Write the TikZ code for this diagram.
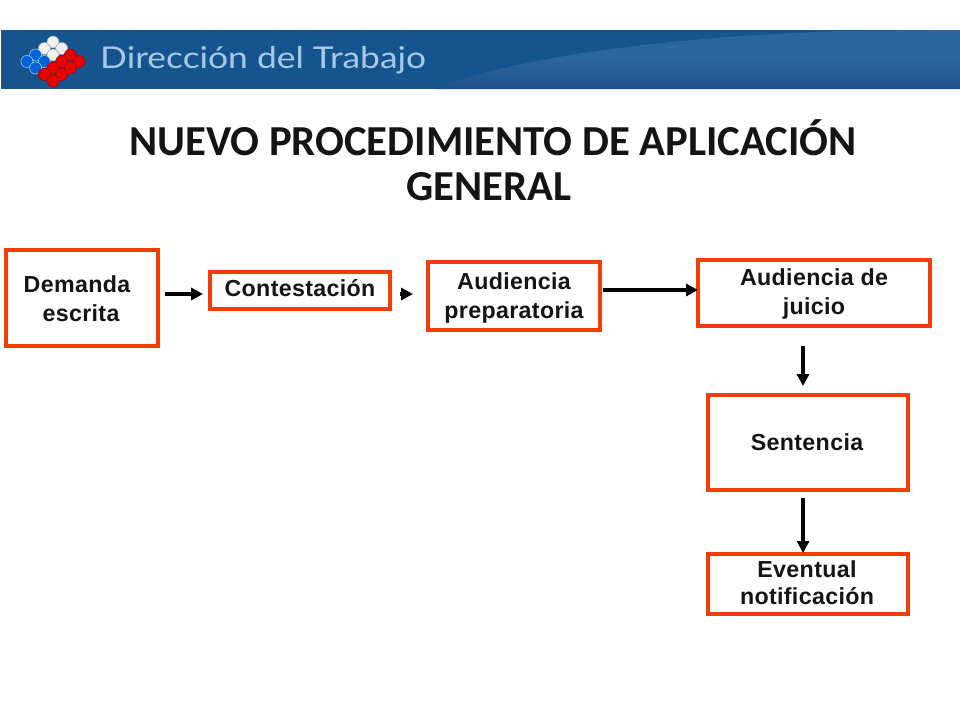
\documentclass[tikz,border=0pt]{standalone}
\usepackage{fontspec}
\setmainfont{Liberation Sans}
\newfontfamily\titlefont{Carlito}
\newfontfamily\logofont[FakeStretch=1.18]{Lato}
\newfontfamily\boxfont[LetterSpace=1.5]{Liberation Sans Bold}
\usetikzlibrary{arrows.meta}
\definecolor{boxred}{HTML}{F53D08}
\definecolor{bandtop}{HTML}{15548F}
\definecolor{bandlight}{HTML}{2C669E}
\definecolor{bandlow}{HTML}{1E5088}
\definecolor{brandblue}{HTML}{A6CBE6}
\tikzset{
  x=1pt,y=-1pt,
  flowbox/.style={draw=boxred,line width=4pt,fill=white,inner sep=0pt},
  flowtext/.style={font=\boxfont\fontsize{23.2}{29}\selectfont,align=center,inner sep=0pt,text=black!92},
  conn/.style={draw=black,line width=3.6pt,-{Triangle[length=12pt,width=12pt]}},
  headline/.style={font=\titlefont\bfseries\fontsize{42.7}{46}\selectfont,inner sep=0pt,text=black!92},
}
\newcommand{\flowrect}[5]{\node[flowbox,minimum width=#4 pt,minimum height=#5 pt] (#1) at (#2,#3) {};}
\begin{document}
\begin{tikzpicture}
\useasboundingbox (0,0) rectangle (960,720);
\fill[white] (0,0) rectangle (960,720);
% band
\fill[bandtop] (2,30) rectangle (960,89);
\shade[top color=bandlight,bottom color=bandlow,middle color=bandlight] (435,89) .. controls (500,62) and (640,38) .. (840,31) -- (960,30) -- (960,89) -- cycle;
\fill[black!70] (1,30) rectangle (2,89);
% logo: a 4 by 4 diamond of dots
\foreach \i in {0,1,2,3}{\foreach \j in {0,1,2,3}{
  \pgfmathsetmacro{\px}{53+8.7*(\i-\j)}
  \pgfmathsetmacro{\py}{35.5+6.5*(\i+\j+1)}
  \ifnum\i<2 \ifnum\j<2 \def\dotc{white!88!gray}\def\dotl{gray!70}\else \def\dotc{blue!55!cyan!85!black}\def\dotl{cyan!40!white}\fi
  \else \def\dotc{red!92!black}\def\dotl{red!65!black}\fi
  \fill[\dotc,draw=\dotl,line width=.5pt] (\px,\py) circle (6pt);
}}
\node[anchor=west,inner sep=0pt,text=brandblue] (brand) at (100,60) {\logofont\fontsize{30}{32}\selectfont Dirección del Trabajo};
% title
\node[headline] (title1) at (493,138) {NUEVO PROCEDIMIENTO DE APLICACIÓN};
\node[headline] (title2) at (489,187) {GENERAL};
% boxes
\flowrect{demanda}{82}{298}{152}{96}
\flowrect{cont}{300}{290}{180}{37}
\flowrect{prep}{514}{296}{172}{68}
\flowrect{juicio}{814}{293}{232}{66}
\flowrect{sent}{808}{442}{200}{95}
\flowrect{even}{808}{584}{200}{60}
\node[flowtext] (t1a) at (77,284) {Demanda};
\node[flowtext] (t1b) at (81,313) {escrita};
\node[flowtext] (t2) at (300,288) {Contestación};
\node[flowtext] (t3) at (514,298) {Audiencia\\preparatoria};
\node[flowtext] (t4) at (814,294) {Audiencia de\\juicio};
\node[flowtext] (t5) at (807,442) {Sentencia};
\node[flowtext,font=\boxfont\fontsize{23.2}{27}\selectfont] (t6) at (807,583) {Eventual\\notificación};
% arrows
\coordinate (a1s) at (165,294); \coordinate (a1e) at (203,294);
\draw[conn] (a1s) -- (a1e);
\coordinate (a2s) at (400,294); \coordinate (a2e) at (413,294);
\draw[conn] (a2s) -- (a2e);
\coordinate (a3s) at (603,290); \coordinate (a3e) at (698,290);
\draw[conn] (a3s) -- (a3e);
\coordinate (a4s) at (803,346); \coordinate (a4e) at (803,386);
\draw[conn] (a4s) -- (a4e);
\coordinate (a5s) at (803,498); \coordinate (a5e) at (803,553);
\draw[conn] (a5s) -- (a5e);
\end{tikzpicture}
\end{document}
